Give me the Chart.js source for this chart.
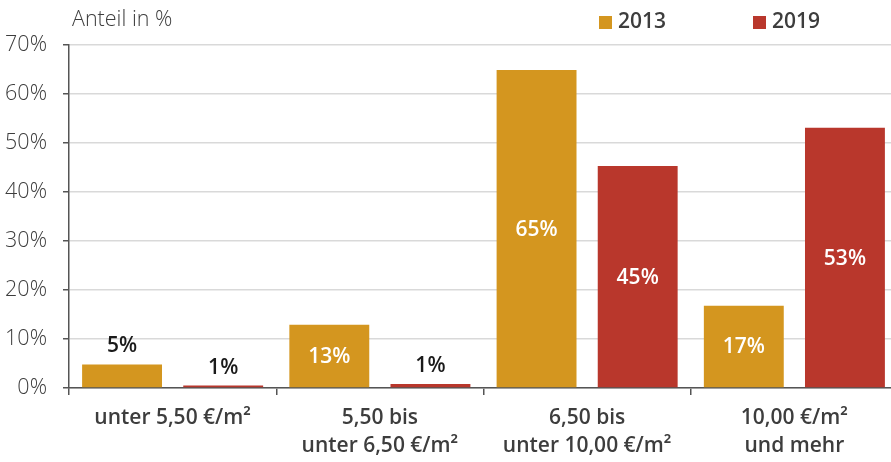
<!DOCTYPE html>
<html>
<head>
<meta charset="utf-8">
<script src="https://cdn.jsdelivr.net/npm/chart.js@4/dist/chart.umd.min.js"></script>
<style>
  html, body { margin: 0; padding: 0; background: #fff; overflow: hidden; }
  #wrap { width: 891px; height: 462px; overflow: hidden; }
</style>
</head>
<body>
<div id="wrap"><canvas id="chart" width="900" height="462"></canvas></div>
<script>
const categories = [
  'unter 5,50 €/m²',
  ['5,50 bis', 'unter 6,50 €/m²'],
  ['6,50 bis', 'unter 10,00 €/m²'],
  ['10,00 €/m²', 'und mehr']
];
const years = ['2013', '2019'];
const values2013 = [4.8, 12.9, 64.9, 16.8];
const values2019 = [0.5, 0.8, 45.3, 53.1];
const labels2013 = ['5%', '13%', '65%', '17%'];
const labels2019 = ['1%', '1%', '45%', '53%'];
const yTicks = [0, 10, 20, 30, 40, 50, 60, 70];

const GOLD = '#d4961f', RED = '#b9372c', TXT = '#3d3d3d';
const FONT = "'Open Sans', sans-serif";

// value labels: inside the bar in white when there is room, above it otherwise
const valueLabels = {
  id: 'valueLabels',
  afterDatasetsDraw(chart) {
    const c = chart.ctx;
    c.save();
    c.font = `600 21px ${FONT}`;
    c.textAlign = 'center';
    c.textBaseline = 'middle';
    chart.data.datasets.forEach((ds, di) => {
      chart.getDatasetMeta(di).data.forEach((bar, i) => {
        const h = bar.base - bar.y;
        if (h > 30) {
          c.fillStyle = '#fff';
          c.fillText(ds.valueLabels[i], bar.x, (bar.y + bar.base) / 2 + 1);
        } else {
          c.fillStyle = '#1a1a1a';
          c.fillText(ds.valueLabels[i], bar.x, bar.y - 18);
        }
      });
    });
    c.restore();
  }
};

// axis caption and legend drawn at the top
const header = {
  id: 'header',
  afterDraw(chart) {
    const c = chart.ctx;
    c.save();
    c.textBaseline = 'middle';
    c.fillStyle = TXT;
    c.font = `300 21.5px ${FONT}`;
    c.textAlign = 'left';
    c.fillText('Anteil in %', 72, 20);
    const xs = [599, 753];
    chart.data.datasets.forEach((ds, i) => {
      c.fillStyle = ds.backgroundColor;
      c.fillRect(xs[i], 16, 13, 13);
      c.fillStyle = TXT;
      c.font = `600 21px ${FONT}`;
      c.fillText(ds.label, xs[i] + 19, 22);
    });
    c.restore();
  }
};

new Chart(document.getElementById('chart'), {
  type: 'bar',
  data: {
    labels: categories,
    datasets: [
      { label: years[0], data: values2013, valueLabels: labels2013, backgroundColor: GOLD },
      { label: years[1], data: values2019, valueLabels: labels2019, backgroundColor: RED }
    ]
  },
  options: {
    responsive: false,
    animation: false,
    layout: { padding: { top: 45, right: 2, left: 0, bottom: 0 } },
    datasets: { bar: { categoryPercentage: 0.976, barPercentage: 0.79 } },
    plugins: { legend: { display: false }, tooltip: { enabled: false } },
    scales: {
      x: {
        afterFit(s) { s.height = 74; },
        grid: { offset: true, drawOnChartArea: false, color: '#555', tickLength: 7, lineWidth: 1.5 },
        border: { color: '#555', width: 1.5 },
        ticks: { color: TXT, padding: 9, font: { family: FONT, size: 21, weight: '600', lineHeight: 1.33 } }
      },
      y: {
        min: 0, max: 70,
        afterFit(s) { s.width = 69; },
        afterBuildTicks(s) { s.ticks = yTicks.map(v => ({ value: v })); },
        grid: { color: '#d9d9d9', lineWidth: 1.5, tickColor: '#555', tickLength: 6 },
        border: { color: '#555', width: 1.5 },
        ticks: {
          color: TXT, padding: 16,
          font: { family: FONT, size: 21.5, weight: '300' },
          callback: v => v + '%'
        }
      }
    }
  },
  plugins: [valueLabels, header]
});
</script>
</body>
</html>
